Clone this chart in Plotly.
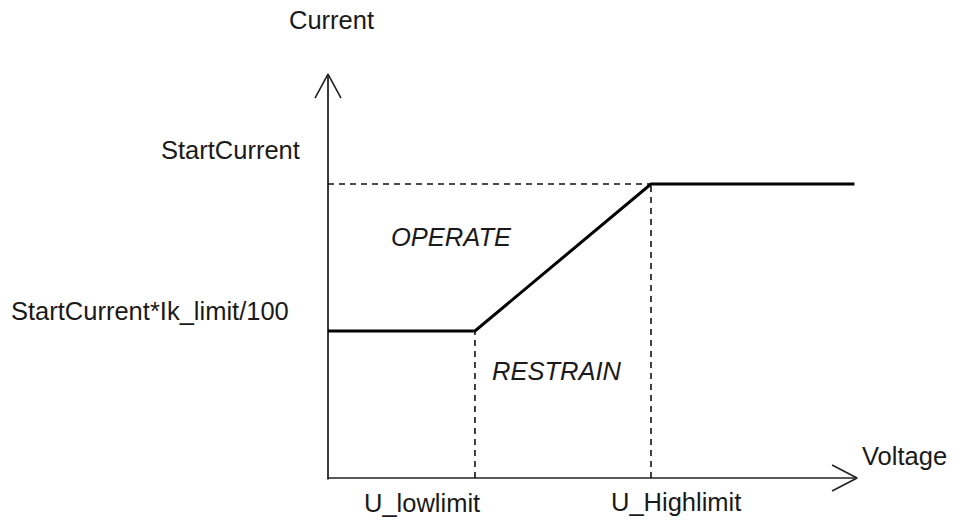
import plotly.graph_objects as go

# ---- data (per-unit) ----
u_lowlimit = 0.455          # U_lowlimit
u_highlimit = 1.0           # U_Highlimit
u_end = 1.63                # end of drawn characteristic
start_current = 1.0         # StartCurrent
ik_limit_level = 0.5        # StartCurrent*Ik_limit/100

char_voltage = [0.0, u_lowlimit, u_highlimit, u_end]
char_current = [ik_limit_level, ik_limit_level, start_current, start_current]

x_axis_len = 1.638
y_axis_len = 1.374

tick_labels_x = ["U_lowlimit", "U_Highlimit"]
tick_labels_y = ["StartCurrent", "StartCurrent*Ik_limit/100"]
axis_titles = ["Voltage", "Current"]
region_labels = ["OPERATE", "RESTRAIN"]

# ---- pixel geometry (page body margin removed) ----
W, H = 954, 520
ox, oy = 328, 478           # origin pixel
sx, sy = 323.0, 294.0       # px per unit

xr = [-ox / sx, (W - ox) / sx]
yr = [-(H - oy) / sy, oy / sy]

FONT = "Arial, Liberation Sans, sans-serif"
FS = 25.5

fig = go.Figure()

# axes
fig.add_trace(go.Scatter(x=[0, 0], y=[-0.005, y_axis_len], mode="lines",
                         line=dict(color="#3a3a3a", width=2), hoverinfo="skip"))
fig.add_trace(go.Scatter(x=[0, x_axis_len], y=[0, 0], mode="lines",
                         line=dict(color="#222", width=1.6), hoverinfo="skip"))
# arrowheads (open V)
ahx, ahy = 13 / sx, 24 / sy
fig.add_trace(go.Scatter(x=[-ahx, 0, ahx], y=[y_axis_len - ahy, y_axis_len, y_axis_len - ahy],
                         mode="lines", line=dict(color="#222", width=1.6), hoverinfo="skip"))
bhx, bhy = 25 / sx, 13 / sy
fig.add_trace(go.Scatter(x=[x_axis_len - bhx, x_axis_len, x_axis_len - bhx], y=[bhy, 0, -bhy],
                         mode="lines", line=dict(color="#222", width=1.6), hoverinfo="skip"))

# dashed guides
dash = dict(color="#111", width=1.6, dash="6px,5px")
fig.add_trace(go.Scatter(x=[0, u_highlimit], y=[start_current, start_current], mode="lines",
                         line=dash, hoverinfo="skip"))
fig.add_trace(go.Scatter(x=[u_lowlimit, u_lowlimit], y=[0, ik_limit_level], mode="lines",
                         line=dash, hoverinfo="skip"))
fig.add_trace(go.Scatter(x=[u_highlimit, u_highlimit], y=[0, start_current], mode="lines",
                         line=dash, hoverinfo="skip"))

# characteristic
fig.add_trace(go.Scatter(x=char_voltage, y=char_current, mode="lines",
                         line=dict(color="#000", width=3), hoverinfo="skip"))

def px(cx, cy):
    return (cx - ox) / sx, (oy - cy) / sy

def label(text, cx, cy, italic=False):
    x, y = px(cx, cy)
    fig.add_annotation(x=x, y=y, text=f"<i>{text}</i>" if italic else text,
                       showarrow=False, xanchor="center", yanchor="middle",
                       borderpad=0,
                       font=dict(family=FONT, size=FS, color="#1a1a1a"))

label(axis_titles[1], 331, 20)
label(axis_titles[0], 904, 456)
label(tick_labels_y[0], 230, 150)
label(tick_labels_y[1], 149.5, 311)
label(tick_labels_x[0], 421.5, 503)
label(tick_labels_x[1], 676, 502)
label(region_labels[0], 451, 237, italic=True)
label(region_labels[1], 557, 371, italic=True)

fig.update_layout(
    width=W, height=H, autosize=False,
    margin=dict(l=0, r=0, t=0, b=0),
    paper_bgcolor="white", plot_bgcolor="white",
    showlegend=False,
    hovermode=False,
    xaxis=dict(range=xr, visible=False, fixedrange=True),
    yaxis=dict(range=yr, visible=False, fixedrange=True),
)

fig.write_html("out.html",
               config={"displayModeBar": False, "staticPlot": True},
               post_script="document.body.style.margin='0';document.body.style.overflow='hidden';")
